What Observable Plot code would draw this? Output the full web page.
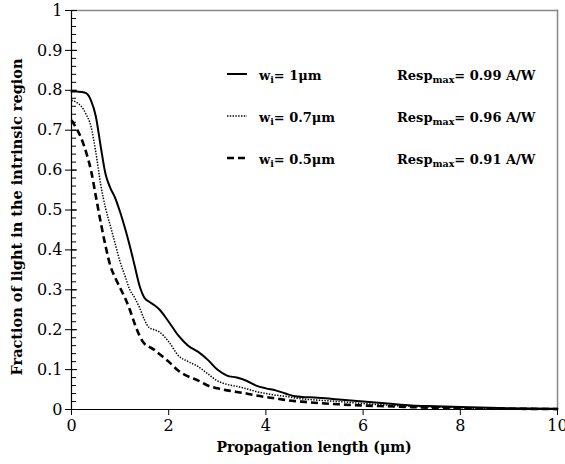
<!DOCTYPE html>
<html><head><meta charset="utf-8">
<script src="https://cdn.jsdelivr.net/npm/d3@7"></script>
<script src="https://cdn.jsdelivr.net/npm/@observablehq/plot@0.6"></script>
<style>
html,body{margin:0;padding:0;background:#fff;}
#chart{position:relative;width:565px;height:464px;}
</style>
</head><body><div id="chart"></div>
<script>
const xs = [0,0.1,0.2,0.3,0.4,0.5,0.6,0.7,0.8,0.9,1.0,1.1,1.2,1.3,1.4,1.5,1.6,1.7,1.8,2.0,2.2,2.4,2.6,2.8,3.0,3.2,3.4,3.6,3.8,4.0,4.2,4.4,4.6,4.8,5.0,5.5,6,6.5,7,7.5,8,9,10];
const w10 = [0.797,0.797,0.796,0.793,0.775,0.735,0.66,0.59,0.555,0.53,0.495,0.455,0.41,0.36,0.31,0.28,0.27,0.262,0.252,0.22,0.185,0.16,0.145,0.125,0.1,0.085,0.08,0.072,0.06,0.053,0.048,0.04,0.033,0.031,0.03,0.025,0.02,0.015,0.01,0.008,0.006,0.003,0.002];
const w07 = [0.775,0.77,0.76,0.74,0.71,0.645,0.565,0.505,0.46,0.415,0.37,0.335,0.30,0.28,0.255,0.225,0.205,0.2,0.195,0.17,0.135,0.12,0.108,0.09,0.072,0.063,0.058,0.052,0.045,0.04,0.036,0.033,0.029,0.026,0.024,0.02,0.015,0.011,0.008,0.006,0.004,0.002,0.001];
const w05 = [0.725,0.705,0.68,0.645,0.6,0.535,0.47,0.41,0.36,0.33,0.305,0.28,0.25,0.215,0.185,0.165,0.157,0.15,0.14,0.12,0.097,0.083,0.073,0.06,0.053,0.048,0.044,0.04,0.035,0.031,0.028,0.024,0.021,0.019,0.017,0.013,0.01,0.008,0.006,0.004,0.003,0.002,0.001];
const seriesNames = ["1μm","0.7μm","0.5μm"];
const respMax = ["0.99","0.96","0.91"];
const xTicks = [0,2,4,6,8,10];
const yTicks = [0,0.1,0.2,0.3,0.4,0.5,0.6,0.7,0.8,0.9,1];
const yMinor = d3.range(0,51).map(i => i/50);

const styles = [
  {stroke:"#000", strokeWidth:2, dash:"none", cap:"round"},
  {stroke:"#000", strokeWidth:1.5, dash:"1.4,1.4", cap:"butt"},
  {stroke:"#000", strokeWidth:2.6, dash:"7,4", cap:"butt"}
];
const series = [w10,w07,w05];
const font = "'DejaVu Serif', serif";

const lineMarks = series.map((s,i) => Plot.line(xs.map((x,j)=>({x, y:s[j]})), {
  x:"x", y:"y", stroke: styles[i].stroke, strokeWidth: styles[i].strokeWidth,
  strokeDasharray: styles[i].dash, strokeLinecap: styles[i].cap, curve:"monotone-x"
}));

const plot = Plot.plot({
  width:565, height:464,
  marginLeft:71, marginRight:8, marginTop:10, marginBottom:55,
  style:{fontFamily:font, fontSize:"16px", color:"#000", background:"#fff"},
  x:{domain:[0,10]},
  y:{domain:[0,1]},
  marks:[
    Plot.frame({anchor:"top", stroke:"#888", strokeWidth:1.5}),
    Plot.frame({anchor:"right", stroke:"#888", strokeWidth:1.5}),
    Plot.axisY({ticks:yMinor, tickSize:-5, text:null, label:null}),
    Plot.axisY({ticks:yTicks, tickSize:-6, text:null, label:null}),
    Plot.axisY({ticks:yTicks, tickSize:6, tickPadding:3, tickFormat:d=>String(d), label:null, fontSize:16}),
    Plot.axisX({ticks:xTicks, tickSize:6, tickPadding:4, label:null, fontSize:16, tickFormat:d=>String(d)}),
    Plot.ruleX([0], {stroke:"#000", strokeWidth:1.2}),
    Plot.ruleY([0], {stroke:"#000", strokeWidth:1.2}),
    ...lineMarks
  ]
});
document.getElementById("chart").appendChild(plot);

const svg = d3.select(plot);
svg.selectAll('g[aria-label="line"]').nodes().forEach((g,i)=>{
  if (i < styles.length) {
    d3.select(g).selectAll("path")
      .attr("stroke-dasharray", styles[i].dash)
      .attr("stroke-linecap", styles[i].cap);
  }
});
// axis labels
svg.append("text").attr("x",314).attr("y",452).attr("text-anchor","middle")
  .attr("font-family",font).attr("font-weight","bold").attr("font-size",14)
  .text("Propagation length (μm)");
svg.append("text").attr("transform","translate(22,217) rotate(-90)").attr("text-anchor","middle")
  .attr("font-family",font).attr("font-weight","bold").attr("font-size",14.5)
  .text("Fraction of light in the intrinsic region");

// legend
const rowY = [74,116,158];
series.forEach((s,i)=>{
  const y = rowY[i];
  svg.append("line").attr("x1",227).attr("x2",247).attr("y1",y).attr("y2",y)
    .attr("stroke","#000").attr("stroke-width",styles[i].strokeWidth)
    .attr("stroke-dasharray",styles[i].dash).attr("stroke-linecap","butt");
  const t = svg.append("text").attr("x",259).attr("y",y+6).attr("text-anchor","start")
    .attr("font-family",font).attr("font-weight","bold").attr("font-size",13);
  t.append("tspan").text("w");
  t.append("tspan").attr("font-size",9.5).attr("dy",3).text("i");
  t.append("tspan").attr("dy",-3).text("= "+seriesNames[i]);
  const r = svg.append("text").attr("x",397).attr("y",y+6).attr("text-anchor","start")
    .attr("font-family",font).attr("font-weight","bold").attr("font-size",13);
  r.append("tspan").text("Resp");
  r.append("tspan").attr("font-size",9.5).attr("dy",3).text("max");
  r.append("tspan").attr("dy",-3).text("= "+respMax[i]+" A/W");
});
</script>
</body></html>
